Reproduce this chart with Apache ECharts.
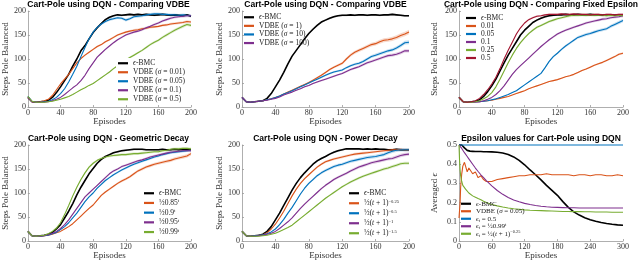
<!DOCTYPE html>
<html><head><meta charset="utf-8">
<script src="https://cdn.jsdelivr.net/npm/echarts@6/dist/echarts.min.js"></script>
<style>html,body{margin:0;padding:0;background:#fff}#c{width:640px;height:265px}</style>
</head><body><div id="c"></div>
<script>
// ---------- DATA ----------
const episodes = [0,5,10,15,20,25,30,35,40,45,50,55,60,65,70,75,80,85,90,95,100,105,110,115,120,125,130,135,140,145,150,155,160,165,170,175,180,185,190,195,200];
const episodes6 = [0,1,2,3,5,7,10,12,15,18,20,25,30,35,40,45,50,60,70,80,90,100,110,120,130,140,150,160,170,180,190,200,210,220,230,240,250,260,270,280,290,300];
const episodesFixed6 = [0,300];

// Panel 1: Comparing VDBE
const p1Bmc  = [20,11,10,11,12,14,20,30,42,55,68,85,100,117,128,142,155,165,174,182,187,190,192,191,192,193,192,193,192,193,192,191,192,193,192,191,192,191,190,192,189];
const p1V001 = [20,11,10,11,13,16,24,36,48,58,68,80,92,101,108,114,120,126,130,136,140,145,150,153,156,158,160,161,163,164,166,167,168,170,171,173,174,175,176,178,177];
const p1V005 = [22,12,10,10,11,12,15,20,28,38,52,68,85,105,124,142,156,166,173,178,182,184,186,185,181,184,188,189,190,192,193,194,194,193,193,192,192,191,192,191,190];
const p1V01  = [20,11,10,10,10,11,13,16,20,26,33,40,46,55,66,80,92,104,112,120,127,134,140,145,150,153,156,158,161,165,168,172,175,179,182,185,187,188,189,190,190];
const p1V05  = [22,12,10,10,10,11,12,14,16,19,22,26,31,36,40,45,49,55,61,67,73,80,86,92,98,103,108,113,118,124,130,135,139,145,150,155,160,164,168,172,170];

// Panel 2: Comparing VDBE (large sigma)
const p2Bmc  = [20,11,10,11,12,13,18,28,42,56,72,90,106,118,130,142,153,162,170,177,181,185,188,190,191,191,192,191,192,192,191,192,192,191,192,192,193,192,191,190,190];
const p2V1   = [20,11,10,11,12,13,15,17,20,23,27,31,35,39,43,47,51,56,61,66,72,78,83,87,91,100,108,114,118,122,126,130,132,136,139,140,142,145,149,152,156];
const p2V10  = [20,11,10,11,12,13,15,17,20,23,27,30,34,38,42,46,50,54,58,62,66,70,73,75,77,82,86,89,91,95,100,105,108,111,114,117,119,123,128,134,135];
const p2V100 = [20,11,10,11,12,13,14,16,18,21,25,28,31,35,38,42,45,49,52,55,58,61,64,67,70,74,78,81,84,88,92,95,98,101,104,107,108,110,113,117,117];

// Panel 3: Comparing Fixed Epsilon
const p3Bmc  = [20,11,10,11,12,15,22,32,44,58,75,92,108,122,136,150,160,168,176,181,185,188,190,191,192,192,193,192,192,193,192,192,193,192,192,191,192,192,191,192,191];
const p3E001 = [20,11,10,10,11,11,12,13,14,16,18,20,22,25,28,31,34,38,41,44,47,50,53,55,57,60,63,65,68,72,76,79,83,87,90,93,97,101,105,110,112];
const p3E005 = [20,11,10,10,11,11,12,13,15,17,20,23,26,30,34,40,46,52,58,64,70,82,95,105,112,120,127,133,139,145,148,151,153,156,159,161,163,168,172,176,180];
const p3E01  = [20,11,10,10,10,11,13,16,20,26,34,44,56,68,78,86,94,102,110,118,126,133,140,146,152,156,160,163,166,169,172,175,177,179,181,183,184,186,187,188,190];
const p3E025 = [20,11,10,10,11,13,17,22,30,42,58,75,92,108,122,134,144,153,160,166,170,174,178,181,184,186,188,190,191,191,192,191,192,191,192,191,190,191,190,191,190];
const p3E05  = [20,11,10,11,13,18,26,36,48,62,80,100,118,135,152,165,175,182,186,189,190,192,193,193,193,194,193,193,194,193,193,193,192,193,193,192,193,193,192,193,193];

// Panel 4: Geometric Decay
const p4Bmc  = [20,11,10,11,12,14,18,25,34,48,62,78,96,112,126,140,151,162,170,176,180,184,186,188,189,190,191,191,191,190,190,190,190,191,190,190,191,190,191,190,190];
const p4G085 = [20,11,10,10,11,12,14,17,20,25,30,36,44,52,60,68,75,85,95,102,108,114,120,125,129,134,140,146,150,154,157,160,162,164,166,168,171,173,175,177,182];
const p4G09  = [20,11,10,10,11,12,15,18,24,30,38,48,58,70,82,92,100,110,118,126,132,138,143,148,152,156,160,163,166,169,172,175,177,180,182,184,185,186,187,188,189];
const p4G095 = [20,11,10,10,11,13,16,20,26,34,44,56,68,80,92,100,108,116,124,132,140,146,150,155,158,161,164,167,169,172,175,177,179,181,183,185,186,187,188,188,188];
const p4G099 = [20,11,10,11,12,15,20,27,38,55,74,94,112,128,142,154,162,168,172,175,177,178,179,180,180,181,182,182,183,184,185,186,186,188,189,191,192,192,193,193,192];

// Panel 5: Power Decay
const p5Bmc  = [20,11,10,11,12,14,20,30,44,58,74,90,106,120,132,142,151,160,167,172,176,181,185,188,190,192,192,192,192,191,192,191,192,191,191,190,190,191,190,190,190];
const p5P025 = [20,11,10,11,12,13,17,25,35,48,62,78,94,108,120,130,138,146,154,160,165,168,171,173,175,177,179,181,182,183,184,185,186,187,188,189,190,190,191,190,190];
const p5P05  = [20,11,10,11,12,13,15,19,25,34,45,58,70,84,98,110,120,128,136,142,147,151,155,158,160,163,166,168,170,172,174,175,176,178,180,184,187,189,190,190,190];
const p5P1   = [20,11,10,10,11,12,14,16,20,26,33,40,48,58,68,77,85,93,101,109,116,122,128,133,137,141,146,150,154,157,160,163,165,167,169,171,172,175,178,180,181];
const p5P15  = [20,11,10,10,10,11,12,14,16,20,24,28,33,40,47,54,61,68,75,82,89,95,101,107,113,118,123,127,131,135,138,141,144,147,150,152,155,158,161,162,162];

// Panel 6: Epsilon values
const p6Bmc   = [0.5,0.5,0.5,0.5,0.5,0.495,0.485,0.478,0.472,0.47,0.468,0.467,0.466,0.466,0.466,0.465,0.465,0.464,0.462,0.458,0.45,0.438,0.42,0.397,0.37,0.345,0.318,0.29,0.264,0.238,0.205,0.175,0.152,0.135,0.121,0.111,0.103,0.096,0.091,0.087,0.084,0.082];
const p6Vdbe  = [0.12,0.12,0.2,0.28,0.35,0.39,0.41,0.39,0.36,0.38,0.37,0.35,0.36,0.33,0.34,0.32,0.31,0.31,0.32,0.325,0.33,0.335,0.34,0.34,0.345,0.345,0.345,0.35,0.345,0.345,0.345,0.345,0.34,0.345,0.345,0.34,0.345,0.345,0.34,0.34,0.345,0.34];
const p6Fixed = [0.5,0.5];
const p6Geo   = [0.5,0.497,0.493,0.49,0.482,0.473,0.46,0.452,0.44,0.428,0.42,0.4,0.38,0.362,0.345,0.33,0.315,0.287,0.263,0.243,0.227,0.214,0.204,0.196,0.19,0.185,0.181,0.178,0.176,0.175,0.174,0.173,0.173,0.172,0.172,0.172,0.172,0.172,0.172,0.172,0.172,0.172];
const p6Pow   = [0.5,0.42,0.37,0.34,0.31,0.29,0.28,0.27,0.26,0.25,0.245,0.235,0.228,0.221,0.215,0.207,0.2,0.19,0.183,0.177,0.172,0.168,0.165,0.162,0.16,0.159,0.158,0.157,0.156,0.155,0.154,0.154,0.153,0.153,0.152,0.152,0.151,0.151,0.151,0.15,0.15,0.15];

const xTicks = [0,40,80,120,160,200];
const xTicks6 = [0,60,120,180,240,300];
const yTicks = [0,50,100,150,200];
const yTicks6 = [0,0.1,0.2,0.3,0.4,0.5];

// ---------- STYLE ----------
const C = {k:'#000000', o:'#D95319', b:'#0072BD', p:'#7E2F8E', g:'#77AC30', r:'#A2142F'};
const SERIF = '"Liberation Serif","Times New Roman",serif';
const SANS = '"Liberation Sans",Arial,sans-serif';

const panels = [
  {title:'Cart-Pole using DQN - Comparing VDBE', grid:{left:26,top:11,width:165,height:96}, xs:episodes, xTicks, yTicks, yName:'Steps Pole Balanced', yGap:16.5,
   legend:{left:116,top:58,pitch:9,fs:7.5,bg:'#fff'},
   series:[
    {lab:'{i|ϵ}{n|-BMC}', c:C.k, d:p1Bmc, w:2, lw:1.6},
    {lab:'{n|VDBE (}{i|σ}{n| = 0.01)}', c:C.o, d:p1V001, w:3},
    {lab:'{n|VDBE (}{i|σ}{n| = 0.05)}', c:C.b, d:p1V005, w:3},
    {lab:'{n|VDBE (}{i|σ}{n| = 0.1)}', c:C.p, d:p1V01, w:3},
    {lab:'{n|VDBE (}{i|σ}{n| = 0.5)}', c:C.g, d:p1V05, w:4}]},
  {title:'Cart-Pole using DQN - Comparing VDBE', grid:{left:242,top:11,width:167,height:96}, xs:episodes, xTicks, yTicks, yName:'Steps Pole Balanced', yGap:17.5,
   legend:{left:242,top:12,pitch:8.6,fs:7.5,bg:'transparent'},
   series:[
    {lab:'{i|ϵ}{n|-BMC}', c:C.k, d:p2Bmc, w:2, lw:1.6},
    {lab:'{n|VDBE (}{i|σ}{n| = 1)}', c:C.o, d:p2V1, w:6},
    {lab:'{n|VDBE (}{i|σ}{n| = 10)}', c:C.b, d:p2V10, w:6},
    {lab:'{n|VDBE (}{i|σ}{n| = 100)}', c:C.p, d:p2V100, w:6}]},
  {title:'Cart-Pole using DQN - Comparing Fixed Epsilon', grid:{left:459,top:11,width:164,height:96}, xs:episodes, xTicks, yTicks, yName:'Steps Pole Balanced', yGap:19.5,
   legend:{left:464,top:13,pitch:7.2,fs:7.5,bg:'transparent'},
   series:[
    {lab:'{i|ϵ}{n|-BMC}', c:C.k, d:p3Bmc, w:2, lw:1.6},
    {lab:'{n|0.01}', c:C.o, d:p3E001, w:4},
    {lab:'{n|0.05}', c:C.b, d:p3E005, w:4},
    {lab:'{n|0.1}', c:C.p, d:p3E01, w:3},
    {lab:'{n|0.25}', c:C.g, d:p3E025, w:3},
    {lab:'{n|0.5}', c:C.r, d:p3E05, w:2}]},
  {title:'Cart-Pole using DQN - Geometric Decay', grid:{left:26,top:145,width:165,height:96}, xs:episodes, xTicks, yTicks, yName:'Steps Pole Balanced', yGap:16.5,
   legend:{left:142,top:188,pitch:9.7,fs:7.5,bg:'#fff'},
   series:[
    {lab:'{i|ϵ}{n|-BMC}', c:C.k, d:p4Bmc, w:2, lw:1.6},
    {lab:'{n|½0.85}{s|t}', c:C.o, d:p4G085, w:4},
    {lab:'{n|½0.9}{s|t}', c:C.b, d:p4G09, w:3},
    {lab:'{n|½0.95}{s|t}', c:C.p, d:p4G095, w:3},
    {lab:'{n|½0.99}{s|t}', c:C.g, d:p4G099, w:3}]},
  {title:'Cart-Pole using DQN - Power Decay', grid:{left:242,top:145,width:167,height:96}, xs:episodes, xTicks, yTicks, yName:'Steps Pole Balanced', yGap:17.5,
   legend:{left:347,top:188,pitch:10,fs:7.5,bg:'#fff'},
   series:[
    {lab:'{i|ϵ}{n|-BMC}', c:C.k, d:p5Bmc, w:2, lw:1.6},
    {lab:'{n|½(}{i|t}{n| + 1)}{s|−0.25}', c:C.o, d:p5P025, w:3},
    {lab:'{n|½(}{i|t}{n| + 1)}{s|−0.5}', c:C.b, d:p5P05, w:4},
    {lab:'{n|½(}{i|t}{n| + 1)}{s|−1}', c:C.p, d:p5P1, w:4},
    {lab:'{n|½(}{i|t}{n| + 1)}{s|−1.5}', c:C.g, d:p5P15, w:4}]},
  {title:'Epsilon values for Cart-Pole using DQN', grid:{left:459,top:145,width:164,height:96}, xs:episodes6, xTicks:xTicks6, yTicks:yTicks6, yName:'Averaged {i|ϵ}', yGap:19.5,
   legend:{left:459,top:199,pitch:7.5,fs:7,bg:'transparent'},
   series:[
    {lab:'{i|ϵ}{n|-BMC}', c:C.k, d:p6Bmc, lw:1.6},
    {lab:'{n|VDBE (}{i|σ}{n| = 0.05)}', c:C.o, d:p6Vdbe},
    {lab:'{i|ϵ}{sub|t}{n| = 0.5}', c:C.b, d:p6Fixed, xs:episodesFixed6},
    {lab:'{i|ϵ}{sub|t}{n| = ½0.99}{s|t}', c:C.p, d:p6Geo},
    {lab:'{i|ϵ}{sub|t}{n| = ½(}{i|t}{n| + 1)}{s|−0.25}', c:C.g, d:p6Pow}]}
];

function rich(fs, lh){
  return {
    n:{fontFamily:SERIF, fontSize:fs, lineHeight:lh, color:'#222'},
    i:{fontFamily:SERIF, fontSize:fs, fontStyle:'italic', lineHeight:lh, color:'#222'},
    s:{fontFamily:SERIF, fontSize:fs*0.62, lineHeight:lh, verticalAlign:'top', color:'#222'},
    sub:{fontFamily:SERIF, fontSize:fs*0.62, fontStyle:'italic', lineHeight:lh, verticalAlign:'bottom', color:'#222'}
  };
}

const option = {animation:false, backgroundColor:'#fff', title:[], grid:[], xAxis:[], yAxis:[], legend:[], series:[]};
const labels = {};
const axisCol = '#9a9a9a';

function bandSeries(pi, xs, vals, w, color){
  const hw = vals.map(v => w * v / 200);
  return {type:'custom', xAxisIndex:pi, yAxisIndex:pi, silent:true, z:1, clip:true,
    data:[[xs[0], vals[0]]],
    renderItem:(params, api) => {
      const up = xs.map((x,i) => api.coord([x, vals[i] + hw[i]]));
      const lo = xs.map((x,i) => api.coord([x, vals[i] - hw[i]])).reverse();
      return {type:'polygon', shape:{points:up.concat(lo)}, style:{fill:color, opacity:0.22}};
    }};
}

panels.forEach((P, pi) => {
  const g = P.grid;
  option.grid.push(Object.assign({containLabel:false}, g));
  option.title.push({text:P.title, left:g.left + g.width/2, top: g.top - 11, textAlign:'center', padding:0,
    textStyle:{fontFamily:SANS, fontWeight:'bold', fontSize:8.5, color:'#000'}});
  const xt = P.xTicks, yt = P.yTicks;
  option.xAxis.push({type:'value', gridIndex:pi, min:xt[0], max:xt[xt.length-1], interval:xt[1]-xt[0],
    name:'Episodes', nameLocation:'middle', nameGap:6.5,
    nameTextStyle:{fontFamily:SERIF, fontSize:9, color:'#333'},
    axisLine:{show:true, lineStyle:{color:axisCol, width:0.8}},
    axisTick:{show:true, inside:true, length:2, lineStyle:{color:axisCol, width:0.8}},
    axisLabel:{fontFamily:SERIF, fontSize:8, color:'#333', margin:1.5},
    splitLine:{show:false}});
  option.yAxis.push({type:'value', gridIndex:pi, min:yt[0], max:yt[yt.length-1], interval:+(yt[1]-yt[0]).toFixed(6),
    name:P.yName, nameLocation:'middle', nameGap:P.yGap, nameRotate:90,
    nameTextStyle:{fontFamily:SERIF, fontSize:9, color:'#333', rich:rich(9,10)},
    axisLine:{show:true, lineStyle:{color:axisCol, width:0.8}},
    axisTick:{show:true, inside:true, length:2, lineStyle:{color:axisCol, width:0.8}},
    axisLabel:{fontFamily:SERIF, fontSize:8, color:'#333', margin:2},
    splitLine:{show:false}});
  const names = [];
  const bands = [], lines = [];
  P.series.forEach((s, k) => {
    const nm = 'p' + pi + '_' + k;
    names.push(nm); labels[nm] = s.lab;
    const xs = s.xs || P.xs;
    lines.push({type:'line', name:nm, xAxisIndex:pi, yAxisIndex:pi, data:xs.map((x,i)=>[x, s.d[i]]),
      symbol:'none', showSymbol:false, clip: pi !== 5, z:3,
      lineStyle:{color:s.c, width:s.lw || 1.1}, itemStyle:{color:s.c}});
    if (s.w) bands.push(bandSeries(pi, xs, s.d, s.w, s.c));
  });
  option.series.push(...bands, ...lines);
  const L = P.legend;
  const lh = Math.min(L.pitch, 8.5);
  option.legend.push({data:names, orient:'vertical', left:L.left, top:L.top, padding:[1,2,1,2],
    itemGap:L.pitch - lh, itemWidth:10, itemHeight:2.2, icon:'rect',
    backgroundColor:L.bg, selectedMode:false,
    formatter:n => labels[n],
    textStyle:{fontFamily:SERIF, fontSize:L.fs, color:'#222', lineHeight:lh, rich:rich(L.fs, lh)}});
});

const chart = echarts.init(document.getElementById('c'), null, {renderer:'canvas'});
chart.setOption(option);
</script></body></html>
